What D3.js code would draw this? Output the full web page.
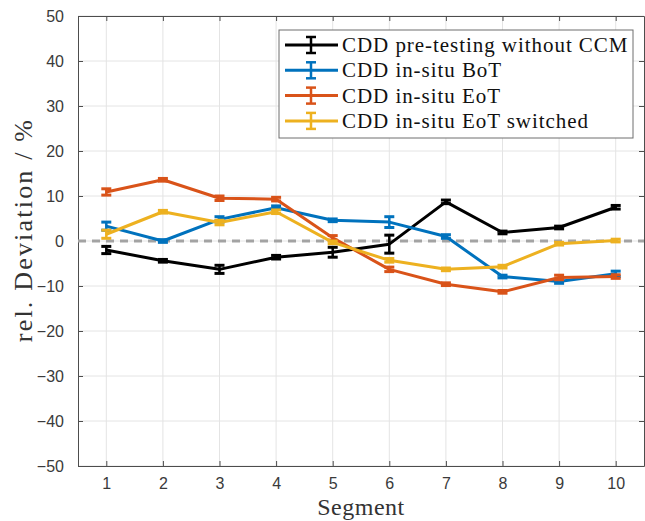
<!DOCTYPE html>
<html>
<head>
<meta charset="utf-8">
<script src="https://cdn.jsdelivr.net/npm/d3@7"></script>
<style>
  body { margin: 0; background: #fff; }
</style>
</head>
<body>
<div id="chart"></div>
<script>
// values (relative deviation in %)
const segments = [1, 2, 3, 4, 5, 6, 7, 8, 9, 10];
const yTicks = [-50, -40, -30, -20, -10, 0, 10, 20, 30, 40, 50];

const preTesting     = [-2.0, -4.4, -6.3, -3.6, -2.5, -0.7, 8.7, 1.9, 3.0, 7.5];
const preTestingErr  = [0.8, 0.3, 0.9, 0.4, 1.1, 2.0, 0.4, 0.3, 0.3, 0.4];
const inSituBoT      = [3.3, 0.0, 4.8, 7.4, 4.6, 4.2, 1.0, -7.9, -9.0, -7.3];
const inSituBoTErr   = [0.9, 0.3, 0.6, 0.4, 0.3, 1.2, 0.4, 0.3, 0.4, 0.6];
const inSituEoT      = [10.9, 13.6, 9.5, 9.3, 0.7, -6.3, -9.6, -11.3, -8.1, -7.9];
const inSituEoTErr   = [0.7, 0.3, 0.5, 0.4, 0.5, 0.5, 0.3, 0.3, 0.5, 0.4];
const eotSwitched    = [1.5, 6.5, 4.1, 6.5, -0.3, -4.3, -6.3, -5.7, -0.6, 0.1];
const eotSwitchedErr = [0.9, 0.3, 0.5, 0.4, 0.3, 0.4, 0.3, 0.3, 0.3, 0.3];

const seriesNames = ["CDD pre-testing without CCM", "CDD in-situ BoT", "CDD in-situ EoT", "CDD in-situ EoT switched"];
const seriesColors = ["#000000", "#0072BD", "#D95319", "#EDB120"];

const series = [
  {name: seriesNames[0], values: preTesting, err: preTestingErr, color: seriesColors[0]},
  {name: seriesNames[1], values: inSituBoT, err: inSituBoTErr, color: seriesColors[1]},
  {name: seriesNames[2], values: inSituEoT, err: inSituEoTErr, color: seriesColors[2]},
  {name: seriesNames[3], values: eotSwitched, err: eotSwitchedErr, color: seriesColors[3]}
];

const width = 645, height = 521;
const margin = {top: 16, bottom: 55, left: 78, right: 1};

const svg = d3.select("#chart")
  .append("svg")
  .attr("width", width)
  .attr("height", height);

const x = d3.scaleLinear()
  .domain([0.5, 10.5])
  .range([margin.left, width - margin.right]);

const y = d3.scaleLinear()
  .domain([-50, 50])
  .range([height - margin.bottom, margin.top]);

const axisColor = "#4d4d4d";

// grid lines
svg.append("g")
  .selectAll("line")
  .data(yTicks)
  .enter()
  .append("line")
  .attr("x1", x(0.5)).attr("x2", x(10.5))
  .attr("y1", d => y(d)).attr("y2", d => y(d))
  .attr("stroke", "#e4e4e4");

svg.append("g")
  .selectAll("line")
  .data(segments)
  .enter()
  .append("line")
  .attr("x1", d => x(d)).attr("x2", d => x(d))
  .attr("y1", y(-50)).attr("y2", y(50))
  .attr("stroke", "#e4e4e4");

// axes, ticks pointing inwards like matlab
function styleAxis(g) {
  g.select(".domain").attr("stroke", axisColor);
  g.selectAll(".tick line").attr("stroke", axisColor);
  g.selectAll(".tick text")
    .attr("fill", "#3a3a3a")
    .style("font-family", "Liberation Sans, Arial, sans-serif")
    .style("font-size", "16px");
}

svg.append("g")
  .attr("transform", `translate(0,${y(-50)})`)
  .call(d3.axisBottom(x).tickValues(segments).tickFormat(d3.format("d")).tickSizeInner(-5).tickSizeOuter(0).tickPadding(12))
  .call(styleAxis);

svg.append("g")
  .attr("transform", `translate(0,${y(50)})`)
  .call(d3.axisTop(x).tickValues(segments).tickFormat("").tickSizeInner(-5).tickSizeOuter(0))
  .call(styleAxis);

svg.append("g")
  .attr("transform", `translate(${x(0.5)},0)`)
  .call(d3.axisLeft(y).tickValues(yTicks).tickFormat(d3.format("d")).tickSizeInner(-5).tickSizeOuter(0).tickPadding(14))
  .call(styleAxis);

svg.append("g")
  .attr("transform", `translate(${x(10.5)},0)`)
  .call(d3.axisRight(y).tickValues(yTicks).tickFormat("").tickSizeInner(-5).tickSizeOuter(0))
  .call(styleAxis);

// dashed zero line
svg.append("line")
  .attr("x1", x(0.5)).attr("x2", x(10.5))
  .attr("y1", y(0)).attr("y2", y(0))
  .attr("stroke", "#a3a3a3")
  .attr("stroke-width", 3)
  .attr("stroke-dasharray", "8,6");

const line = d3.line()
  .x((d, i) => x(segments[i]))
  .y(d => y(d));

const capW = 5;

series.forEach(s => {
  const g = svg.append("g");

  g.append("path")
    .datum(s.values)
    .attr("d", line)
    .attr("fill", "none")
    .attr("stroke", s.color)
    .attr("stroke-width", 3)
    .attr("stroke-linejoin", "round");

  // error bars
  const bars = g.selectAll(".err")
    .data(s.values.map((v, i) => ({seg: segments[i], v: v, e: s.err[i]})))
    .enter()
    .append("g");

  bars.append("line")
    .attr("x1", d => x(d.seg)).attr("x2", d => x(d.seg))
    .attr("y1", d => y(d.v - d.e)).attr("y2", d => y(d.v + d.e))
    .attr("stroke", s.color).attr("stroke-width", 2.5);

  bars.append("line")
    .attr("x1", d => x(d.seg) - capW).attr("x2", d => x(d.seg) + capW)
    .attr("y1", d => y(d.v + d.e)).attr("y2", d => y(d.v + d.e))
    .attr("stroke", s.color).attr("stroke-width", 3);

  bars.append("line")
    .attr("x1", d => x(d.seg) - capW).attr("x2", d => x(d.seg) + capW)
    .attr("y1", d => y(d.v - d.e)).attr("y2", d => y(d.v - d.e))
    .attr("stroke", s.color).attr("stroke-width", 3);
});

// legend
const legend = svg.append("g")
  .attr("transform", "translate(279,30)");

legend.append("rect")
  .attr("width", 354)
  .attr("height", 108)
  .attr("fill", "#fff")
  .attr("stroke", "#6e6e6e")
  .attr("stroke-width", 1);

series.forEach((s, i) => {
  const cy = 15 + i * 25.3;
  legend.append("line")
    .attr("x1", 6).attr("x2", 59)
    .attr("y1", cy).attr("y2", cy)
    .attr("stroke", s.color).attr("stroke-width", 3);
  legend.append("line")
    .attr("x1", 32).attr("x2", 32)
    .attr("y1", cy - 8).attr("y2", cy + 8)
    .attr("stroke", s.color).attr("stroke-width", 2.5);
  [cy - 8, cy + 8].forEach(yy => {
    legend.append("line")
      .attr("x1", 27).attr("x2", 37)
      .attr("y1", yy).attr("y2", yy)
      .attr("stroke", s.color).attr("stroke-width", 2.5);
  });
  legend.append("text")
    .attr("x", 63)
    .attr("y", cy + 7)
    .style("font-family", "Liberation Serif, Times New Roman, serif")
    .style("font-size", "21px")
    .style("letter-spacing", "0.95px")
    .attr("fill", "#111")
    .text(s.name);
});

// axis labels
svg.append("text")
  .attr("x", x(5.5))
  .attr("y", 515)
  .style("text-anchor", "middle")
  .style("font-family", "Liberation Serif, Times New Roman, serif")
  .style("font-size", "24px")
  .style("letter-spacing", "0.5px")
  .attr("fill", "#333")
  .text("Segment");

svg.append("text")
  .attr("transform", "rotate(-90)")
  .attr("x", -230)
  .attr("y", 32)
  .style("text-anchor", "middle")
  .style("font-family", "Liberation Serif, Times New Roman, serif")
  .style("font-size", "26px")
  .style("letter-spacing", "2.2px")
  .attr("fill", "#333")
  .text("rel. Deviation / %");
</script>
</body>
</html>
